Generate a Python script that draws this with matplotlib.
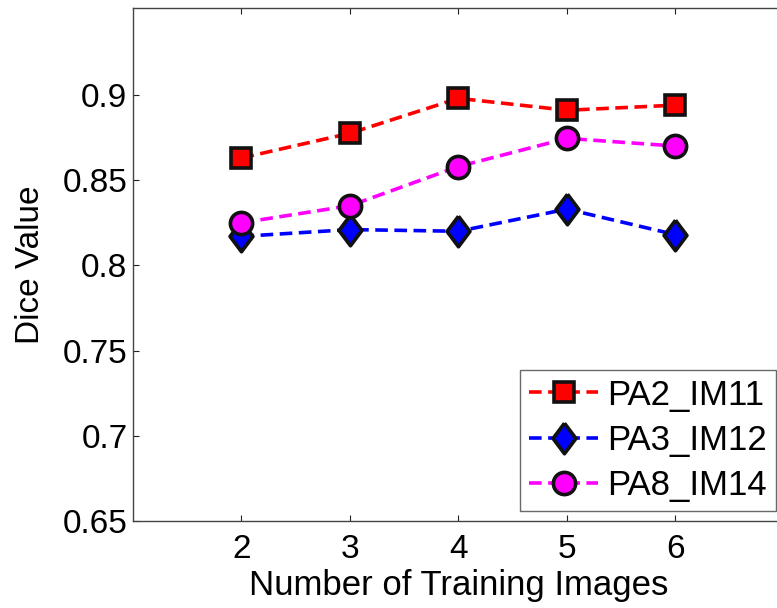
import numpy as np
import matplotlib
matplotlib.use("Agg")
import matplotlib.pyplot as plt
from matplotlib.ticker import FuncFormatter

plt.rcParams['font.family'] = ['Liberation Sans', 'DejaVu Sans']

# Data
n_images = [2, 3, 4, 5, 6]
pa2_im11 = [0.863, 0.8775, 0.898, 0.891, 0.894]
pa3_im12 = [0.817, 0.821, 0.820, 0.833, 0.818]
pa8_im14 = [0.825, 0.835, 0.858, 0.8745, 0.870]
labels = ['PA2_IM11', 'PA3_IM12', 'PA8_IM14']

fig = plt.figure(figsize=(7.77, 6.08), dpi=100)
ax = fig.add_axes([133 / 777, 87 / 608, (784 - 133) / 777, 513 / 608])

dash = (0, (3.5, 1.8))
tall_diamond = [(0, 1), (0.75, 0), (0, -1), (-0.75, 0), (0, 1)]
lw = 2.6

ax.plot(n_images, pa2_im11, color='red', linestyle=dash, linewidth=lw,
        marker='s', markersize=15, markerfacecolor='red',
        markeredgecolor='#111111', markeredgewidth=2.6, label=labels[0])
ax.plot(n_images, pa3_im12, color='blue', linestyle=dash, linewidth=lw,
        marker=tall_diamond, markersize=22, markerfacecolor='blue',
        markeredgecolor='#111111', markeredgewidth=2.6, label=labels[1])
ax.plot(n_images, pa8_im14, color='magenta', linestyle=dash, linewidth=lw,
        marker='o', markersize=16, markerfacecolor='magenta',
        markeredgecolor='#111111', markeredgewidth=2.6, label=labels[2])

ax.set_xlim(1, 7)
ax.set_ylim(0.65, 0.951)
ax.set_xticks(n_images)
ax.set_yticks([0.65, 0.7, 0.75, 0.8, 0.85, 0.9])
ax.yaxis.set_major_formatter(FuncFormatter(lambda v, p: f'{v:g}'))

ax.tick_params(direction='in', length=4, width=0.8, top=True, right=True,
               labelsize=24, colors='#222222', labelcolor='black')
ax.tick_params(axis='y', pad=4)
ax.tick_params(axis='x', pad=9)
for sp in ax.spines.values():
    sp.set_color('#444444')
    sp.set_linewidth(1.0)

ax.set_xlabel('Number of Training Images', fontsize=25, labelpad=3)
ax.set_ylabel('Dice Value', fontsize=24, labelpad=12)

leg = ax.legend(loc='lower right', fontsize=25, frameon=True, fancybox=False,
                edgecolor='#444444', handlelength=2.0, borderpad=0.25,
                labelspacing=0.35, handletextpad=0.25, borderaxespad=0.3,
                bbox_to_anchor=(1.003, 0.0))
leg.get_frame().set_linewidth(1.0)

fig.savefig('out.png', dpi=100)
